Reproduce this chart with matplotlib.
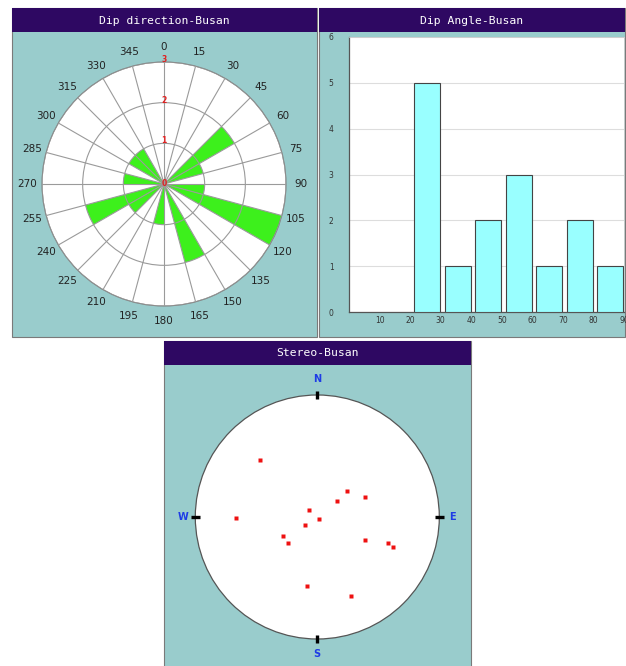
import numpy as np
import matplotlib
matplotlib.use('Agg')
import matplotlib.pyplot as plt
from matplotlib.patches import Rectangle, Circle

# ---------------- data ----------------
rose_bin_starts = list(range(0, 360, 15))
rose_counts = [0, 0, 0, 2, 1, 0, 1, 3, 0, 0, 2, 0,
               1, 0, 0, 1, 2, 0, 1, 0, 1, 1, 0, 0]
rose_ring_labels = [0, 1, 2, 3]
rose_dir_labels = list(range(0, 360, 15))

dip_bins = [20, 30, 40, 50, 60, 70, 80]
dip_counts = [5, 1, 2, 3, 1, 2, 1]
dip_xticks = [10, 20, 30, 40, 50, 60, 70, 80, 90]
dip_yticks = [0, 1, 2, 3, 4, 5, 6]

stereo_x = [-0.470, -0.669, 0.240, 0.391, 0.158, -0.066, 0.016, -0.098,
            -0.279, -0.240, 0.391, 0.577, 0.623, -0.087, 0.276]
stereo_y = [0.467, -0.005, 0.213, 0.167, 0.134, 0.057, -0.019, -0.068,
            -0.156, -0.216, -0.189, -0.216, -0.249, -0.563, -0.648]

titles = ["Dip direction-Busan", "Dip Angle-Busan", "Stereo-Busan"]

# ---------------- layout helpers ----------------
W, H, DPI = 626, 666, 100
fig = plt.figure(figsize=(W / DPI, H / DPI), dpi=DPI)
fig.patch.set_facecolor('white')

PANEL = '#99CCCC'
BAR = '#2E0862'


def add_axes_px(l, t, w, h, **kw):
    return fig.add_axes([l / W, 1 - (t + h) / H, w / W, h / H], **kw)


def rect_px(l, t, r, b, **kw):
    p = Rectangle((l / W, 1 - b / H), (r - l) / W, (b - t) / H,
                  transform=fig.transFigure, **kw)
    fig.add_artist(p)
    return p


def panel(l, t, r, b, title):
    rect_px(l, t, r, b, facecolor=PANEL, edgecolor='#7a7a7a', lw=0.8, zorder=-10)
    rect_px(l, t, r, t + 24, facecolor=BAR, edgecolor='none', zorder=-9)
    fig.text((l + r) / 2 / W, 1 - (t + 12.5) / H, title, color='white',
             family='DejaVu Sans Mono', fontsize=8.2, ha='center', va='center')


panel(12, 8, 317, 337, titles[0])
panel(319, 8, 625, 337, titles[1])
panel(164, 341, 471, 668, titles[2])

# ---------------- rose diagram ----------------
axr = add_axes_px(42, 62, 244, 244, projection='polar')
axr.set_facecolor('white')
axr.set_theta_zero_location('N')
axr.set_theta_direction(-1)
axr.bar(np.deg2rad(rose_bin_starts), rose_counts, width=np.deg2rad(15),
        align='edge', color='#3DF01C', edgecolor='none', zorder=1)
axr.set_ylim(0, 3)
axr.set_xticks(np.deg2rad(rose_dir_labels))
axr.set_xticklabels([])
axr.set_yticks([1, 2, 3])
axr.set_yticklabels([])
axr.set_axisbelow(False)
axr.grid(True, color='#9a9a9a', lw=0.8)
axr.spines['polar'].set_color('#808080')
axr.spines['polar'].set_linewidth(0.8)
axr.tick_params(length=0)
for a in rose_dir_labels:
    axr.text(np.deg2rad(a), 3.36, str(a), ha='center', va='center',
             fontsize=7.5, color='#222222', clip_on=False)
for r in rose_ring_labels:
    axr.text(0, r + (0.06 if r else 0), str(r), ha='center', va='center',
             fontsize=5.5, fontweight='bold', color='#E02020', zorder=5)

# ---------------- dip angle histogram ----------------
axh = add_axes_px(349, 37, 275, 275)
axh.set_facecolor('white')
axh.bar([b + 1.3 for b in dip_bins], dip_counts, width=8.5, align='edge',
        color='#99FFFF', edgecolor='#444444', lw=0.8, zorder=3)
axh.set_xlim(0, 90)
axh.set_ylim(0, 6)
axh.set_yticks(dip_yticks)
axh.set_yticklabels([str(v) for v in dip_yticks])
axh.set_xticks(dip_xticks)
axh.set_xticklabels([str(v) for v in dip_xticks])
axh.yaxis.grid(True, color='#dddddd', lw=0.8)
axh.set_axisbelow(True)
axh.tick_params(axis='y', length=0, pad=11, labelsize=5.5, labelcolor='#333333')
axh.tick_params(axis='x', length=0, pad=3, labelsize=5.5, labelcolor='#333333')
for s in ['left', 'bottom']:
    axh.spines[s].set_color('#555555')
    axh.spines[s].set_linewidth(0.9)
for s in ['top', 'right']:
    axh.spines[s].set_color('#cccccc')
    axh.spines[s].set_linewidth(0.6)

# ---------------- stereonet ----------------
cx, cy, R = 317.3, 517, 122
half = 150
axs = add_axes_px(cx - half, cy - half, 2 * half, 2 * half)
axs.set_xlim(-half / R, half / R)
axs.set_ylim(-half / R, half / R)
axs.axis('off')
axs.patch.set_alpha(0)
axs.add_patch(Circle((0, 0), 1, facecolor='white', edgecolor='#555555', lw=0.9))
tk = 0.035
axs.plot([0, 0], [1 - tk, 1 + tk], color='black', lw=2.4, solid_capstyle='butt')
axs.plot([0, 0], [-1 - tk, -1 + tk], color='black', lw=2.4, solid_capstyle='butt')
axs.plot([1 - tk, 1 + tk], [0, 0], color='black', lw=2.4, solid_capstyle='butt')
axs.plot([-1 - tk, -1 + tk], [0, 0], color='black', lw=2.4, solid_capstyle='butt')
lab_kw = dict(color='#1E3CE6', fontsize=7, fontweight='bold', ha='center', va='center')
axs.text(0, 1.13, 'N', **lab_kw)
axs.text(0, -1.12, 'S', **lab_kw)
axs.text(1.11, 0, 'E', **lab_kw)
axs.text(-1.10, 0, 'W', **lab_kw)
axs.plot(stereo_x, stereo_y, 's', color='#EE1111', ms=3, mec='none')

fig.savefig('out.png', dpi=DPI, facecolor='white')
